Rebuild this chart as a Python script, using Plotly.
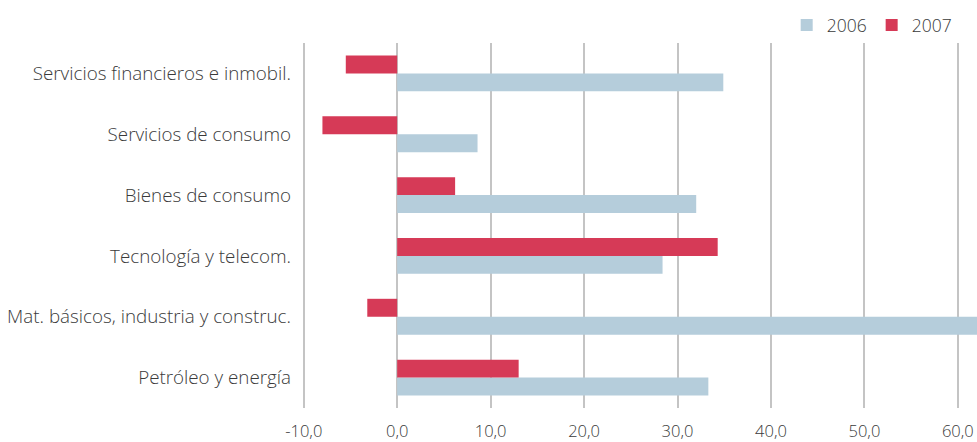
import plotly.graph_objects as go

# Categories listed top-to-bottom as in the reference
categories = [
    "Servicios financieros e inmobil.",
    "Servicios de consumo",
    "Bienes de consumo",
    "Tecnología y telecom.",
    "Mat. básicos, industria y construc.",
    "Petróleo y energía",
]
values_2006 = [34.9, 8.6, 32.0, 28.4, 64.0, 33.3]
values_2007 = [-5.5, -8.0, 6.2, 34.3, -3.2, 13.0]
x_ticks = [-10, 0, 10, 20, 30, 40, 50, 60]
x_tick_text = [f"{v:.1f}".replace(".", ",") for v in x_ticks]

# Plotly draws the first category at the bottom, so reverse
cats = categories[::-1]
v06 = values_2006[::-1]
v07 = values_2007[::-1]

fig = go.Figure()
fig.add_trace(go.Bar(y=cats, x=v06, orientation="h", name="2006",
                     marker=dict(color="#b5cddb", line=dict(width=0))))
fig.add_trace(go.Bar(y=cats, x=v07, orientation="h", name="2007",
                     marker=dict(color="#d63a57", line=dict(width=0))))

font_family = "Open Sans, Segoe UI, sans-serif"
text_color = "#3a3a3a"
fig.update_layout(
    width=977, height=442,
    margin=dict(l=300, r=0, t=43, b=31),
    paper_bgcolor="white", plot_bgcolor="white",
    barmode="group", bargap=0.41, bargroupgap=0,
    font=dict(family=font_family, size=16, color=text_color, weight=300),
    legend=dict(orientation="h", x=0.97, xanchor="right", y=1.0, yanchor="bottom",
                font=dict(size=17.5, color=text_color, weight=300), traceorder="normal",
                itemwidth=30, bgcolor="rgba(0,0,0,0)"),
    xaxis=dict(range=[-10.4, 62.05], tickvals=x_ticks, ticktext=x_tick_text,
               showgrid=True, gridcolor="#c4c4c4", gridwidth=1.5,
               zeroline=True, zerolinecolor="#c4c4c4", zerolinewidth=1.5,
               showline=False, ticks="", ticklabelstandoff=11,
               tickfont=dict(size=16.5, color=text_color, weight=300)),
    yaxis=dict(showgrid=False, zeroline=False, showline=False, ticks="",
               ticklabelstandoff=8,
               tickfont=dict(size=18.8, color=text_color, weight=300)),
)

fig.write_html("out.html")
